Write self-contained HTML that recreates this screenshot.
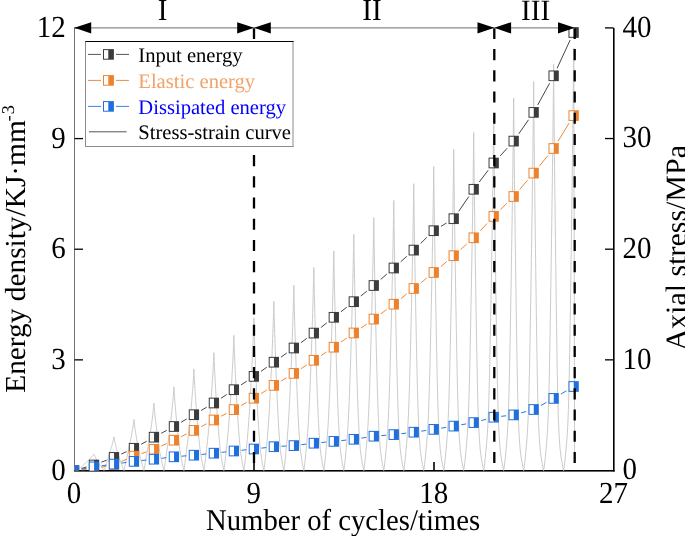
<!DOCTYPE html>
<html><head><meta charset="utf-8"><style>
html,body{margin:0;padding:0;background:#fff;width:685px;height:536px;overflow:hidden}
svg{display:block;will-change:transform;text-rendering:geometricPrecision;font-family:"Liberation Serif",serif}
</style></head><body>
<svg width="685" height="536" viewBox="0 0 685 536">
<defs><clipPath id="clip"><rect x="74.4" y="0" width="539.3" height="470.5"/></clipPath></defs>
<rect width="685" height="536" fill="#fff"/>
<rect x="74" y="27.9" width="1" height="443" fill="#727272"/>
<rect x="613" y="27.9" width="1.6" height="443.6" fill="#000"/>
<rect x="74" y="470" width="540.6" height="1.6" fill="#000"/>
<line x1="74.5" y1="359.86" x2="83" y2="359.86" stroke="#000" stroke-width="1.3"/>
<line x1="74.5" y1="249.22" x2="83" y2="249.22" stroke="#000" stroke-width="1.3"/>
<line x1="74.5" y1="138.58" x2="83" y2="138.58" stroke="#000" stroke-width="1.3"/>
<line x1="74.5" y1="27.94" x2="83" y2="27.94" stroke="#000" stroke-width="1.3"/>
<line x1="605" y1="359.85" x2="613.5" y2="359.85" stroke="#000" stroke-width="1.3"/>
<line x1="605" y1="249.20" x2="613.5" y2="249.20" stroke="#000" stroke-width="1.3"/>
<line x1="605" y1="138.55" x2="613.5" y2="138.55" stroke="#000" stroke-width="1.3"/>
<line x1="605" y1="27.90" x2="613.5" y2="27.90" stroke="#000" stroke-width="1.3"/>
<line x1="254.00" y1="462" x2="254.00" y2="470.5" stroke="#000" stroke-width="1.6"/>
<line x1="434.00" y1="462" x2="434.00" y2="470.5" stroke="#000" stroke-width="1.6"/>
<path d="M77.00,470.50 L77.16,470.36 L77.39,470.16 L77.66,469.93 L77.96,469.67 L78.28,469.39 L78.63,469.10 L78.99,468.79 L79.36,468.46 L79.75,468.13 L80.15,467.78 L80.57,467.42 L80.99,467.05 L81.42,466.67 L81.86,466.29 L82.31,465.89 L82.77,465.49 L83.23,465.08 L83.70,464.66 L84.17,464.23 L84.65,463.80 L85.14,463.36 L85.62,462.92 L86.12,462.46 L86.61,462.01 L87.11,461.54 L87.60,461.08 L88.10,460.60 L88.60,460.12 L89.10,459.64 L89.60,459.15 L90.09,458.65 L90.58,458.15 L91.06,457.65 L91.54,457.14 L92.01,456.63 L92.46,456.11 L92.90,455.59 L93.31,455.06 L93.69,454.53 L93.98,454.00 L93.98,454.00 L94.14,454.53 L94.33,455.06 L94.55,455.59 L94.78,456.11 L95.03,456.63 L95.28,457.14 L95.54,457.65 L95.80,458.15 L96.07,458.65 L96.34,459.15 L96.62,459.64 L96.90,460.12 L97.18,460.60 L97.47,461.08 L97.75,461.54 L98.04,462.01 L98.33,462.46 L98.61,462.92 L98.90,463.36 L99.19,463.80 L99.48,464.23 L99.76,464.66 L100.04,465.08 L100.33,465.49 L100.60,465.89 L100.88,466.29 L101.15,466.67 L101.42,467.05 L101.69,467.42 L101.95,467.78 L102.20,468.13 L102.45,468.46 L102.69,468.79 L102.92,469.10 L103.14,469.39 L103.35,469.67 L103.54,469.93 L103.72,470.16 L103.87,470.36 L103.98,470.50 L103.98,470.50 L104.07,470.22 L104.21,469.82 L104.36,469.34 L104.54,468.82 L104.73,468.25 L104.93,467.65 L105.13,467.01 L105.35,466.35 L105.58,465.67 L105.81,464.96 L106.05,464.23 L106.30,463.48 L106.55,462.71 L106.80,461.92 L107.07,461.11 L107.33,460.29 L107.60,459.45 L107.87,458.60 L108.15,457.73 L108.43,456.85 L108.71,455.96 L109.00,455.05 L109.29,454.14 L109.58,453.20 L109.87,452.26 L110.16,451.31 L110.46,450.34 L110.76,449.37 L111.07,448.38 L111.37,447.38 L111.67,446.38 L111.96,445.36 L112.25,444.33 L112.53,443.30 L112.81,442.25 L113.08,441.20 L113.34,440.14 L113.58,439.07 L113.80,437.99 L113.97,436.90 L113.97,436.90 L114.12,437.99 L114.30,439.07 L114.51,440.14 L114.73,441.20 L114.96,442.25 L115.19,443.30 L115.43,444.33 L115.68,445.36 L115.93,446.38 L116.19,447.38 L116.44,448.38 L116.70,449.37 L116.96,450.34 L117.23,451.31 L117.51,452.26 L117.79,453.20 L118.08,454.14 L118.36,455.05 L118.65,455.96 L118.94,456.85 L119.22,457.73 L119.51,458.60 L119.80,459.45 L120.09,460.29 L120.37,461.11 L120.66,461.92 L120.94,462.71 L121.22,463.48 L121.50,464.23 L121.77,464.96 L122.04,465.67 L122.31,466.35 L122.56,467.01 L122.81,467.65 L123.05,468.25 L123.28,468.82 L123.49,469.34 L123.68,469.82 L123.85,470.22 L123.96,470.50 L123.96,470.50 L124.06,470.08 L124.20,469.46 L124.36,468.74 L124.54,467.95 L124.74,467.09 L124.94,466.18 L125.15,465.22 L125.38,464.22 L125.60,463.18 L125.84,462.10 L126.08,461.00 L126.33,459.86 L126.58,458.69 L126.84,457.50 L127.10,456.28 L127.36,455.03 L127.63,453.77 L127.90,452.47 L128.18,451.16 L128.47,449.83 L128.77,448.47 L129.08,447.10 L129.38,445.71 L129.68,444.30 L129.99,442.87 L130.29,441.43 L130.59,439.96 L130.88,438.49 L131.18,436.99 L131.47,435.48 L131.75,433.96 L132.04,432.42 L132.31,430.86 L132.59,429.29 L132.85,427.71 L133.11,426.12 L133.35,424.51 L133.58,422.88 L133.79,421.25 L133.95,419.60 L133.95,419.60 L134.09,421.25 L134.27,422.88 L134.47,424.51 L134.68,426.12 L134.90,427.71 L135.12,429.29 L135.35,430.86 L135.59,432.42 L135.83,433.96 L136.07,435.48 L136.32,436.99 L136.57,438.49 L136.83,439.96 L137.08,441.43 L137.34,442.87 L137.59,444.30 L137.85,445.71 L138.11,447.10 L138.37,448.47 L138.63,449.83 L138.90,451.16 L139.19,452.47 L139.49,453.77 L139.78,455.03 L140.07,456.28 L140.37,457.50 L140.66,458.69 L140.96,459.86 L141.25,461.00 L141.54,462.10 L141.83,463.18 L142.11,464.22 L142.39,465.22 L142.66,466.18 L142.93,467.09 L143.18,467.95 L143.41,468.74 L143.63,469.46 L143.82,470.08 L143.95,470.50 L143.95,470.50 L144.05,469.94 L144.20,469.13 L144.38,468.18 L144.57,467.13 L144.77,465.99 L144.98,464.79 L145.21,463.52 L145.44,462.19 L145.67,460.82 L145.91,459.40 L146.16,457.94 L146.41,456.43 L146.66,454.89 L146.92,453.31 L147.18,451.70 L147.45,450.05 L147.75,448.37 L148.06,446.67 L148.36,444.93 L148.66,443.17 L148.96,441.38 L149.26,439.56 L149.56,437.72 L149.85,435.86 L150.14,433.97 L150.43,432.06 L150.72,430.13 L151.01,428.17 L151.29,426.19 L151.57,424.20 L151.84,422.18 L152.11,420.15 L152.38,418.09 L152.64,416.02 L152.89,413.92 L153.13,411.81 L153.37,409.69 L153.59,407.54 L153.78,405.38 L153.94,403.20 L153.94,403.20 L154.07,405.38 L154.24,407.54 L154.43,409.69 L154.63,411.81 L154.83,413.92 L155.05,416.02 L155.27,418.09 L155.50,420.15 L155.73,422.18 L155.96,424.20 L156.20,426.19 L156.44,428.17 L156.68,430.13 L156.93,432.06 L157.17,433.97 L157.42,435.86 L157.67,437.72 L157.93,439.56 L158.18,441.38 L158.44,443.17 L158.69,444.93 L158.95,446.67 L159.21,448.37 L159.47,450.05 L159.76,451.70 L160.06,453.31 L160.36,454.89 L160.67,456.43 L160.98,457.94 L161.29,459.40 L161.59,460.82 L161.90,462.19 L162.20,463.52 L162.50,464.79 L162.78,465.99 L163.06,467.13 L163.33,468.18 L163.57,469.13 L163.78,469.94 L163.93,470.50 L163.93,470.50 L164.05,469.81 L164.21,468.80 L164.40,467.61 L164.61,466.31 L164.82,464.89 L165.05,463.39 L165.28,461.82 L165.52,460.17 L165.76,458.46 L166.01,456.69 L166.26,454.87 L166.51,453.00 L166.77,451.08 L167.06,449.12 L167.37,447.11 L167.67,445.07 L167.97,442.98 L168.27,440.86 L168.57,438.70 L168.86,436.51 L169.16,434.28 L169.45,432.02 L169.73,429.73 L170.02,427.42 L170.30,425.07 L170.58,422.69 L170.86,420.29 L171.13,417.86 L171.40,415.40 L171.67,412.92 L171.93,410.41 L172.19,407.88 L172.44,405.32 L172.69,402.74 L172.93,400.14 L173.16,397.51 L173.38,394.87 L173.59,392.20 L173.78,389.51 L173.93,386.80 L173.93,386.80 L174.05,389.51 L174.21,392.20 L174.39,394.87 L174.58,397.51 L174.78,400.14 L174.98,402.74 L175.19,405.32 L175.41,407.88 L175.63,410.41 L175.85,412.92 L176.08,415.40 L176.31,417.86 L176.54,420.29 L176.77,422.69 L177.01,425.07 L177.25,427.42 L177.49,429.73 L177.74,432.02 L177.99,434.28 L178.24,436.51 L178.49,438.70 L178.74,440.86 L179.00,442.98 L179.25,445.07 L179.51,447.11 L179.77,449.12 L180.05,451.08 L180.37,453.00 L180.69,454.87 L181.01,456.69 L181.34,458.46 L181.66,460.17 L181.99,461.82 L182.31,463.39 L182.63,464.89 L182.94,466.31 L183.23,467.61 L183.51,468.80 L183.75,469.81 L183.92,470.50 L183.92,470.50 L184.05,469.66 L184.23,468.44 L184.44,467.00 L184.66,465.42 L184.90,463.71 L185.14,461.89 L185.39,459.98 L185.64,457.99 L185.89,455.92 L186.14,453.78 L186.40,451.57 L186.68,449.30 L187.00,446.98 L187.31,444.60 L187.61,442.17 L187.91,439.69 L188.21,437.16 L188.51,434.59 L188.80,431.98 L189.08,429.32 L189.36,426.62 L189.64,423.89 L189.92,421.11 L190.19,418.30 L190.46,415.46 L190.73,412.58 L190.99,409.67 L191.25,406.72 L191.51,403.75 L191.76,400.74 L192.01,397.70 L192.26,394.63 L192.50,391.54 L192.73,388.41 L192.96,385.26 L193.18,382.08 L193.39,378.87 L193.59,375.64 L193.77,372.38 L193.91,369.10 L193.91,369.10 L194.03,372.38 L194.18,375.64 L194.35,378.87 L194.53,382.08 L194.72,385.26 L194.91,388.41 L195.11,391.54 L195.32,394.63 L195.53,397.70 L195.74,400.74 L195.95,403.75 L196.17,406.72 L196.39,409.67 L196.62,412.58 L196.85,415.46 L197.08,418.30 L197.31,421.11 L197.54,423.89 L197.78,426.62 L198.02,429.32 L198.27,431.98 L198.51,434.59 L198.76,437.16 L199.02,439.69 L199.27,442.17 L199.54,444.60 L199.80,446.98 L200.07,449.30 L200.37,451.57 L200.70,453.78 L201.05,455.92 L201.39,457.99 L201.75,459.98 L202.10,461.89 L202.45,463.71 L202.79,465.42 L203.12,467.00 L203.43,468.44 L203.71,469.66 L203.90,470.50 L203.90,470.50 L204.05,469.53 L204.25,468.10 L204.48,466.44 L204.72,464.60 L204.98,462.61 L205.23,460.50 L205.49,458.28 L205.76,455.96 L206.02,453.56 L206.27,451.07 L206.59,448.51 L206.91,445.87 L207.22,443.17 L207.53,440.41 L207.84,437.59 L208.13,434.70 L208.42,431.77 L208.71,428.78 L208.99,425.74 L209.27,422.66 L209.54,419.53 L209.81,416.35 L210.08,413.13 L210.34,409.86 L210.60,406.56 L210.85,403.21 L211.11,399.83 L211.35,396.41 L211.60,392.95 L211.84,389.46 L212.08,385.93 L212.31,382.36 L212.54,378.76 L212.77,375.13 L212.99,371.47 L213.20,367.78 L213.40,364.05 L213.59,360.30 L213.76,356.51 L213.89,352.70 L213.89,352.70 L214.01,356.51 L214.16,360.30 L214.32,364.05 L214.49,367.78 L214.67,371.47 L214.86,375.13 L215.05,378.76 L215.24,382.36 L215.44,385.93 L215.64,389.46 L215.85,392.95 L216.06,396.41 L216.27,399.83 L216.49,403.21 L216.70,406.56 L216.92,409.86 L217.15,413.13 L217.37,416.35 L217.60,419.53 L217.83,422.66 L218.07,425.74 L218.31,428.78 L218.56,431.77 L218.80,434.70 L219.06,437.59 L219.32,440.41 L219.58,443.17 L219.85,445.87 L220.12,448.51 L220.42,451.07 L220.77,453.56 L221.14,455.96 L221.51,458.28 L221.89,460.50 L222.27,462.61 L222.64,464.60 L223.01,466.44 L223.36,468.10 L223.67,469.53 L223.89,470.50 L223.89,470.50 L224.05,469.38 L224.27,467.75 L224.53,465.84 L224.79,463.73 L225.07,461.45 L225.34,459.03 L225.62,456.48 L225.89,453.83 L226.16,451.07 L226.48,448.22 L226.82,445.28 L227.14,442.26 L227.46,439.16 L227.76,435.99 L228.06,432.75 L228.35,429.45 L228.64,426.08 L228.91,422.66 L229.19,419.17 L229.45,415.63 L229.72,412.04 L229.97,408.39 L230.23,404.70 L230.48,400.96 L230.72,397.17 L230.97,393.33 L231.21,389.45 L231.45,385.53 L231.68,381.56 L231.91,377.55 L232.14,373.51 L232.36,369.42 L232.58,365.29 L232.80,361.13 L233.01,356.93 L233.21,352.69 L233.40,348.42 L233.59,344.11 L233.75,339.77 L233.88,335.40 L233.88,335.40 L233.99,339.77 L234.13,344.11 L234.29,348.42 L234.45,352.69 L234.62,356.93 L234.80,361.13 L234.98,365.29 L235.17,369.42 L235.36,373.51 L235.56,377.55 L235.75,381.56 L235.95,385.53 L236.16,389.45 L236.36,393.33 L236.57,397.17 L236.78,400.96 L236.99,404.70 L237.21,408.39 L237.43,412.04 L237.65,415.63 L237.88,419.17 L238.11,422.66 L238.35,426.08 L238.59,429.45 L238.84,432.75 L239.09,435.99 L239.35,439.16 L239.62,442.26 L239.90,445.28 L240.18,448.22 L240.49,451.07 L240.87,453.83 L241.27,456.48 L241.67,459.03 L242.08,461.45 L242.49,463.73 L242.89,465.84 L243.28,467.75 L243.62,469.38 L243.87,470.50 L243.87,470.50 L244.05,469.24 L244.30,467.39 L244.58,465.23 L244.87,462.85 L245.17,460.27 L245.46,457.54 L245.75,454.66 L246.03,451.66 L246.36,448.54 L246.71,445.31 L247.04,441.99 L247.37,438.58 L247.68,435.08 L247.98,431.49 L248.28,427.83 L248.56,424.10 L248.84,420.30 L249.10,416.42 L249.36,412.48 L249.62,408.48 L249.87,404.42 L250.12,400.30 L250.36,396.13 L250.60,391.90 L250.84,387.61 L251.07,383.28 L251.30,378.89 L251.53,374.46 L251.75,369.97 L251.97,365.44 L252.19,360.87 L252.41,356.25 L252.62,351.59 L252.82,346.88 L253.02,342.13 L253.22,337.35 L253.41,332.52 L253.58,327.65 L253.74,322.74 L253.87,317.80 L253.87,317.80 L253.97,322.74 L254.11,327.65 L254.26,332.52 L254.41,337.35 L254.58,342.13 L254.75,346.88 L254.93,351.59 L255.11,356.25 L255.29,360.87 L255.48,365.44 L255.67,369.97 L255.86,374.46 L256.05,378.89 L256.25,383.28 L256.45,387.61 L256.65,391.90 L256.85,396.13 L257.06,400.30 L257.27,404.42 L257.48,408.48 L257.70,412.48 L257.92,416.42 L258.15,420.30 L258.38,424.10 L258.63,427.83 L258.87,431.49 L259.13,435.08 L259.40,438.58 L259.67,441.99 L259.96,445.31 L260.26,448.54 L260.60,451.66 L261.02,454.66 L261.44,457.54 L261.88,460.27 L262.32,462.85 L262.76,465.23 L263.19,467.39 L263.58,469.24 L263.86,470.50 L263.86,470.50 L264.06,469.10 L264.33,467.06 L264.64,464.67 L264.95,462.02 L265.26,459.17 L265.57,456.13 L265.87,452.95 L266.18,449.62 L266.55,446.16 L266.91,442.59 L267.25,438.91 L267.57,435.13 L267.88,431.25 L268.18,427.28 L268.46,423.22 L268.74,419.09 L269.00,414.87 L269.26,410.58 L269.51,406.22 L269.76,401.78 L270.00,397.28 L270.24,392.72 L270.47,388.09 L270.70,383.40 L270.93,378.66 L271.15,373.85 L271.37,368.99 L271.59,364.08 L271.81,359.11 L272.02,354.09 L272.23,349.02 L272.44,343.90 L272.64,338.74 L272.84,333.52 L273.04,328.26 L273.22,322.96 L273.41,317.61 L273.58,312.21 L273.73,306.78 L273.85,301.30 L273.85,301.30 L273.95,306.78 L274.08,312.21 L274.23,317.61 L274.38,322.96 L274.54,328.26 L274.71,333.52 L274.88,338.74 L275.05,343.90 L275.23,349.02 L275.41,354.09 L275.59,359.11 L275.78,364.08 L275.96,368.99 L276.15,373.85 L276.34,378.66 L276.53,383.40 L276.73,388.09 L276.93,392.72 L277.13,397.28 L277.34,401.78 L277.54,406.22 L277.76,410.58 L277.98,414.87 L278.21,419.09 L278.44,423.22 L278.68,427.28 L278.94,431.25 L279.20,435.13 L279.47,438.91 L279.76,442.59 L280.06,446.16 L280.38,449.62 L280.78,452.95 L281.23,456.13 L281.69,459.17 L282.17,462.02 L282.64,464.67 L283.11,467.06 L283.53,469.10 L283.84,470.50 L283.84,470.50 L284.06,468.97 L284.36,466.73 L284.69,464.12 L285.02,461.22 L285.35,458.10 L285.68,454.78 L285.99,451.30 L286.36,447.66 L286.74,443.88 L287.09,439.97 L287.43,435.94 L287.75,431.80 L288.06,427.56 L288.35,423.22 L288.62,418.78 L288.89,414.25 L289.15,409.64 L289.40,404.95 L289.64,400.18 L289.88,395.33 L290.11,390.40 L290.34,385.41 L290.56,380.35 L290.78,375.22 L291.00,370.03 L291.22,364.77 L291.43,359.45 L291.64,354.08 L291.85,348.64 L292.06,343.15 L292.26,337.61 L292.46,332.01 L292.66,326.36 L292.86,320.65 L293.04,314.90 L293.23,309.09 L293.40,303.24 L293.57,297.34 L293.72,291.39 L293.83,285.40 L293.83,285.40 L293.93,291.39 L294.06,297.34 L294.20,303.24 L294.35,309.09 L294.51,314.90 L294.67,320.65 L294.83,326.36 L295.00,332.01 L295.18,337.61 L295.35,343.15 L295.53,348.64 L295.70,354.08 L295.88,359.45 L296.07,364.77 L296.25,370.03 L296.44,375.22 L296.63,380.35 L296.82,385.41 L297.01,390.40 L297.21,395.33 L297.41,400.18 L297.62,404.95 L297.83,409.64 L298.05,414.25 L298.27,418.78 L298.51,423.22 L298.76,427.56 L299.02,431.80 L299.29,435.94 L299.58,439.97 L299.88,443.88 L300.20,447.66 L300.56,451.30 L301.03,454.78 L301.51,458.10 L302.02,461.22 L302.53,464.12 L303.03,466.73 L303.49,468.97 L303.83,470.50 L303.83,470.50 L304.07,468.82 L304.40,466.37 L304.75,463.50 L305.11,460.33 L305.46,456.90 L305.80,453.26 L306.15,449.44 L306.55,445.45 L306.93,441.30 L307.29,437.02 L307.63,432.60 L307.94,428.06 L308.24,423.41 L308.52,418.65 L308.79,413.78 L309.05,408.82 L309.29,403.76 L309.53,398.61 L309.77,393.37 L309.99,388.06 L310.21,382.66 L310.43,377.18 L310.65,371.63 L310.86,366.01 L311.07,360.31 L311.28,354.55 L311.49,348.72 L311.69,342.82 L311.89,336.86 L312.09,330.84 L312.29,324.76 L312.49,318.62 L312.68,312.42 L312.87,306.16 L313.05,299.85 L313.23,293.48 L313.40,287.07 L313.56,280.59 L313.71,274.07 L313.82,267.50 L313.82,267.50 L313.92,274.07 L314.04,280.59 L314.18,287.07 L314.32,293.48 L314.47,299.85 L314.63,306.16 L314.79,312.42 L314.95,318.62 L315.12,324.76 L315.29,330.84 L315.46,336.86 L315.63,342.82 L315.81,348.72 L315.98,354.55 L316.16,360.31 L316.34,366.01 L316.52,371.63 L316.71,377.18 L316.89,382.66 L317.08,388.06 L317.27,393.37 L317.47,398.61 L317.68,403.76 L317.89,408.82 L318.11,413.78 L318.33,418.65 L318.57,423.41 L318.83,428.06 L319.10,432.60 L319.38,437.02 L319.69,441.30 L320.01,445.45 L320.36,449.44 L320.81,453.26 L321.32,456.90 L321.85,460.33 L322.39,463.50 L322.94,466.37 L323.44,468.82 L323.81,470.50 L323.81,470.50 L324.07,468.69 L324.43,466.03 L324.81,462.93 L325.19,459.50 L325.56,455.80 L325.90,451.86 L326.31,447.73 L326.72,443.41 L327.10,438.93 L327.46,434.30 L327.79,429.52 L328.10,424.61 L328.39,419.58 L328.67,414.43 L328.92,409.17 L329.17,403.80 L329.41,398.33 L329.64,392.77 L329.87,387.11 L330.08,381.36 L330.30,375.52 L330.51,369.60 L330.72,363.59 L330.92,357.51 L331.13,351.35 L331.33,345.12 L331.53,338.82 L331.73,332.44 L331.93,326.00 L332.12,319.49 L332.31,312.91 L332.51,306.27 L332.69,299.57 L332.88,292.80 L333.05,285.98 L333.23,279.10 L333.39,272.16 L333.55,265.16 L333.69,258.11 L333.81,251.00 L333.81,251.00 L333.90,258.11 L334.02,265.16 L334.15,272.16 L334.30,279.10 L334.44,285.98 L334.60,292.80 L334.75,299.57 L334.91,306.27 L335.07,312.91 L335.24,319.49 L335.40,326.00 L335.57,332.44 L335.74,338.82 L335.91,345.12 L336.09,351.35 L336.26,357.51 L336.43,363.59 L336.61,369.60 L336.79,375.52 L336.97,381.36 L337.16,387.11 L337.35,392.77 L337.55,398.33 L337.75,403.80 L337.96,409.17 L338.18,414.43 L338.42,419.58 L338.66,424.61 L338.93,429.52 L339.21,434.30 L339.51,438.93 L339.84,443.41 L340.19,447.73 L340.61,451.86 L341.14,455.80 L341.69,459.50 L342.27,462.93 L342.85,466.03 L343.40,468.69 L343.80,470.50 L343.80,470.50 L344.08,468.55 L344.46,465.69 L344.87,462.36 L345.27,458.67 L345.65,454.68 L346.01,450.45 L346.46,446.01 L346.88,441.36 L347.27,436.54 L347.62,431.56 L347.95,426.42 L348.25,421.14 L348.53,415.73 L348.80,410.19 L349.05,404.53 L349.29,398.76 L349.51,392.88 L349.74,386.89 L349.95,380.80 L350.16,374.61 L350.37,368.33 L350.58,361.97 L350.78,355.51 L350.98,348.97 L351.18,342.34 L351.37,335.64 L351.57,328.86 L351.76,322.00 L351.95,315.07 L352.14,308.07 L352.33,300.99 L352.52,293.85 L352.70,286.64 L352.88,279.36 L353.06,272.02 L353.23,264.62 L353.39,257.16 L353.54,249.63 L353.68,242.04 L353.79,234.40 L353.79,234.40 L353.88,242.04 L354.00,249.63 L354.13,257.16 L354.27,264.62 L354.42,272.02 L354.56,279.36 L354.72,286.64 L354.87,293.85 L355.03,300.99 L355.19,308.07 L355.35,315.07 L355.52,322.00 L355.68,328.86 L355.85,335.64 L356.02,342.34 L356.19,348.97 L356.36,355.51 L356.53,361.97 L356.70,368.33 L356.88,374.61 L357.06,380.80 L357.24,386.89 L357.43,392.88 L357.63,398.76 L357.83,404.53 L358.04,410.19 L358.27,415.73 L358.51,421.14 L358.77,426.42 L359.05,431.56 L359.35,436.54 L359.68,441.36 L360.03,446.01 L360.42,450.45 L360.96,454.68 L361.54,458.67 L362.15,462.36 L362.77,465.69 L363.35,468.55 L363.78,470.50 L363.78,470.50 L364.09,468.41 L364.50,465.35 L364.93,461.78 L365.35,457.82 L365.74,453.56 L366.15,449.03 L366.61,444.26 L367.03,439.29 L367.42,434.13 L367.77,428.79 L368.09,423.28 L368.38,417.63 L368.66,411.83 L368.91,405.90 L369.15,399.84 L369.39,393.65 L369.61,387.35 L369.82,380.94 L370.03,374.42 L370.23,367.79 L370.43,361.07 L370.63,354.24 L370.83,347.33 L371.02,340.32 L371.22,333.22 L371.41,326.04 L371.60,318.78 L371.79,311.43 L371.98,304.01 L372.16,296.51 L372.35,288.93 L372.53,281.28 L372.71,273.56 L372.88,265.76 L373.06,257.90 L373.22,249.97 L373.38,241.98 L373.53,233.91 L373.67,225.79 L373.77,217.60 L373.77,217.60 L373.87,225.79 L373.98,233.91 L374.11,241.98 L374.25,249.97 L374.39,257.90 L374.53,265.76 L374.68,273.56 L374.84,281.28 L374.99,288.93 L375.15,296.51 L375.31,304.01 L375.47,311.43 L375.63,318.78 L375.79,326.04 L375.95,333.22 L376.12,340.32 L376.28,347.33 L376.45,354.24 L376.62,361.07 L376.79,367.79 L376.97,374.42 L377.14,380.94 L377.33,387.35 L377.51,393.65 L377.71,399.84 L377.92,405.90 L378.14,411.83 L378.37,417.63 L378.62,423.28 L378.89,428.79 L379.19,434.13 L379.52,439.29 L379.88,444.26 L380.27,449.03 L380.79,453.56 L381.39,457.82 L382.03,461.78 L382.68,465.35 L383.30,468.41 L383.77,470.50 L383.77,470.50 L384.10,468.27 L384.53,465.00 L384.98,461.19 L385.42,456.96 L385.83,452.41 L386.29,447.57 L386.76,442.48 L387.18,437.17 L387.56,431.65 L387.91,425.95 L388.22,420.07 L388.51,414.03 L388.77,407.84 L389.02,401.51 L389.25,395.03 L389.48,388.43 L389.69,381.70 L389.90,374.85 L390.10,367.88 L390.30,360.81 L390.49,353.62 L390.68,346.34 L390.87,338.95 L391.06,331.47 L391.25,323.89 L391.44,316.22 L391.63,308.46 L391.81,300.62 L392.00,292.69 L392.18,284.67 L392.36,276.58 L392.54,268.41 L392.71,260.16 L392.89,251.84 L393.05,243.44 L393.22,234.97 L393.37,226.43 L393.52,217.82 L393.66,209.15 L393.76,200.40 L393.76,200.40 L393.85,209.15 L393.96,217.82 L394.09,226.43 L394.22,234.97 L394.36,243.44 L394.50,251.84 L394.65,260.16 L394.80,268.41 L394.95,276.58 L395.11,284.67 L395.26,292.69 L395.42,300.62 L395.58,308.46 L395.74,316.22 L395.90,323.89 L396.06,331.47 L396.22,338.95 L396.38,346.34 L396.55,353.62 L396.71,360.81 L396.88,367.88 L397.05,374.85 L397.23,381.70 L397.41,388.43 L397.60,395.03 L397.80,401.51 L398.01,407.84 L398.24,414.03 L398.48,420.07 L398.75,425.95 L399.04,431.65 L399.36,437.17 L399.72,442.48 L400.12,447.57 L400.62,452.41 L401.24,456.96 L401.91,461.19 L402.59,465.00 L403.25,468.27 L403.75,470.50 L403.75,470.50 L404.10,468.13 L404.56,464.66 L405.04,460.61 L405.50,456.13 L405.92,451.29 L406.42,446.15 L406.89,440.75 L407.31,435.11 L407.69,429.25 L408.03,423.20 L408.33,416.96 L408.61,410.54 L408.87,403.97 L409.11,397.24 L409.34,390.37 L409.55,383.35 L409.76,376.21 L409.96,368.93 L410.15,361.54 L410.35,354.02 L410.54,346.40 L410.72,338.66 L410.91,330.82 L411.10,322.87 L411.28,314.82 L411.46,306.68 L411.65,298.44 L411.83,290.11 L412.01,281.69 L412.19,273.19 L412.37,264.59 L412.54,255.92 L412.72,247.16 L412.89,238.32 L413.05,229.40 L413.21,220.41 L413.37,211.34 L413.51,202.20 L413.64,192.99 L413.75,183.70 L413.75,183.70 L413.83,192.99 L413.94,202.20 L414.07,211.34 L414.20,220.41 L414.34,229.40 L414.48,238.32 L414.62,247.16 L414.77,255.92 L414.92,264.59 L415.07,273.19 L415.22,281.69 L415.38,290.11 L415.53,298.44 L415.69,306.68 L415.84,314.82 L416.00,322.87 L416.16,330.82 L416.32,338.66 L416.48,346.40 L416.64,354.02 L416.80,361.54 L416.97,368.93 L417.14,376.21 L417.32,383.35 L417.50,390.37 L417.69,397.24 L417.90,403.97 L418.12,410.54 L418.35,416.96 L418.61,423.20 L418.90,429.25 L419.22,435.11 L419.58,440.75 L419.98,446.15 L420.45,451.29 L421.10,456.13 L421.79,460.61 L422.51,464.66 L423.21,468.13 L423.74,470.50 L423.74,470.50 L424.11,467.99 L424.60,464.31 L425.10,460.02 L425.57,455.27 L426.01,450.14 L426.55,444.70 L427.02,438.97 L427.44,433.00 L427.81,426.79 L428.14,420.38 L428.44,413.76 L428.71,406.97 L428.96,400.00 L429.19,392.87 L429.41,385.59 L429.62,378.16 L429.82,370.58 L430.01,362.88 L430.20,355.04 L430.39,347.08 L430.57,339.00 L430.76,330.80 L430.94,322.49 L431.12,314.07 L431.31,305.54 L431.49,296.91 L431.67,288.18 L431.84,279.36 L432.02,270.44 L432.20,261.42 L432.37,252.32 L432.55,243.12 L432.72,233.84 L432.88,224.48 L433.05,215.03 L433.20,205.50 L433.36,195.89 L433.50,186.20 L433.63,176.44 L433.73,166.60 L433.73,166.60 L433.82,176.44 L433.93,186.20 L434.05,195.89 L434.18,205.50 L434.31,215.03 L434.45,224.48 L434.59,233.84 L434.74,243.12 L434.89,252.32 L435.03,261.42 L435.18,270.44 L435.34,279.36 L435.49,288.18 L435.64,296.91 L435.80,305.54 L435.95,314.07 L436.11,322.49 L436.26,330.80 L436.42,339.00 L436.58,347.08 L436.74,355.04 L436.90,362.88 L437.06,370.58 L437.23,378.16 L437.41,385.59 L437.60,392.87 L437.79,400.00 L438.00,406.97 L438.23,413.76 L438.49,420.38 L438.77,426.79 L439.09,433.00 L439.45,438.97 L439.85,444.70 L440.30,450.14 L440.95,455.27 L441.67,460.02 L442.42,464.31 L443.16,467.99 L443.72,470.50 L443.72,470.50 L444.12,467.84 L444.63,463.96 L445.15,459.42 L445.64,454.40 L446.13,448.98 L446.67,443.23 L447.14,437.18 L447.56,430.86 L447.92,424.30 L448.25,417.52 L448.54,410.53 L448.80,403.35 L449.04,395.99 L449.26,388.45 L449.47,380.75 L449.67,372.90 L449.87,364.90 L450.06,356.75 L450.24,348.47 L450.43,340.05 L450.61,331.51 L450.79,322.85 L450.97,314.06 L451.15,305.16 L451.33,296.15 L451.50,287.03 L451.68,277.81 L451.86,268.48 L452.03,259.05 L452.21,249.52 L452.38,239.90 L452.55,230.18 L452.72,220.37 L452.88,210.47 L453.04,200.49 L453.20,190.41 L453.35,180.26 L453.49,170.02 L453.62,159.70 L453.71,149.30 L453.71,149.30 L453.80,159.70 L453.91,170.02 L454.03,180.26 L454.16,190.41 L454.29,200.49 L454.43,210.47 L454.57,220.37 L454.71,230.18 L454.85,239.90 L455.00,249.52 L455.15,259.05 L455.30,268.48 L455.45,277.81 L455.60,287.03 L455.75,296.15 L455.90,305.16 L456.06,314.06 L456.21,322.85 L456.36,331.51 L456.52,340.05 L456.67,348.47 L456.83,356.75 L456.99,364.90 L457.16,372.90 L457.33,380.75 L457.51,388.45 L457.70,395.99 L457.90,403.35 L458.13,410.53 L458.37,417.52 L458.65,424.30 L458.96,430.86 L459.32,437.18 L459.72,443.23 L460.18,448.98 L460.81,454.40 L461.55,459.42 L462.34,463.96 L463.11,467.84 L463.71,470.50 L463.71,470.50 L464.12,467.71 L464.66,463.62 L465.20,458.85 L465.71,453.56 L466.23,447.86 L466.77,441.80 L467.25,435.44 L467.66,428.79 L468.02,421.89 L468.34,414.75 L468.62,407.40 L468.87,399.84 L469.11,392.09 L469.32,384.16 L469.53,376.06 L469.72,367.79 L469.91,359.37 L470.10,350.80 L470.28,342.08 L470.46,333.23 L470.63,324.24 L470.81,315.12 L470.99,305.88 L471.16,296.51 L471.34,287.03 L471.52,277.43 L471.69,267.73 L471.86,257.91 L472.04,247.99 L472.21,237.96 L472.38,227.83 L472.55,217.61 L472.71,207.29 L472.88,196.87 L473.03,186.36 L473.19,175.76 L473.34,165.08 L473.48,154.30 L473.60,143.44 L473.70,132.50 L473.70,132.50 L473.78,143.44 L473.89,154.30 L474.01,165.08 L474.14,175.76 L474.27,186.36 L474.40,196.87 L474.54,207.29 L474.68,217.61 L474.82,227.83 L474.97,237.96 L475.12,247.99 L475.26,257.91 L475.41,267.73 L475.56,277.43 L475.71,287.03 L475.86,296.51 L476.01,305.88 L476.16,315.12 L476.31,324.24 L476.46,333.23 L476.62,342.08 L476.77,350.80 L476.93,359.37 L477.09,367.79 L477.25,376.06 L477.43,384.16 L477.61,392.09 L477.81,399.84 L478.03,407.40 L478.27,414.75 L478.54,421.89 L478.84,428.79 L479.20,435.44 L479.60,441.80 L480.06,447.86 L480.68,453.56 L481.44,458.85 L482.25,463.62 L483.06,467.71 L483.69,470.50 L483.69,470.50 L484.13,467.58 L484.69,463.31 L485.25,458.33 L485.76,452.81 L486.32,446.85 L486.86,440.53 L487.34,433.88 L487.75,426.94 L488.10,419.73 L488.41,412.28 L488.69,404.60 L488.93,396.70 L489.16,388.61 L489.37,380.33 L489.57,371.87 L489.76,363.24 L489.94,354.44 L490.12,345.49 L490.30,336.39 L490.48,327.14 L490.65,317.75 L490.83,308.23 L491.00,298.57 L491.18,288.79 L491.35,278.89 L491.52,268.87 L491.70,258.73 L491.87,248.47 L492.04,238.11 L492.21,227.64 L492.38,217.06 L492.54,206.39 L492.71,195.61 L492.87,184.73 L493.03,173.75 L493.18,162.68 L493.32,151.52 L493.46,140.27 L493.59,128.93 L493.69,117.50 L493.69,117.50 L493.77,128.93 L493.87,140.27 L493.99,151.52 L494.12,162.68 L494.25,173.75 L494.38,184.73 L494.52,195.61 L494.66,206.39 L494.80,217.06 L494.94,227.64 L495.09,238.11 L495.23,248.47 L495.38,258.73 L495.53,268.87 L495.67,278.89 L495.82,288.79 L495.97,298.57 L496.12,308.23 L496.27,317.75 L496.42,327.14 L496.57,336.39 L496.72,345.49 L496.87,354.44 L497.03,363.24 L497.19,371.87 L497.36,380.33 L497.54,388.61 L497.73,396.70 L497.94,404.60 L498.18,412.28 L498.44,419.73 L498.74,426.94 L499.09,433.88 L499.49,440.53 L499.96,446.85 L500.56,452.81 L501.34,458.33 L502.18,463.31 L503.02,467.58 L503.68,470.50 L503.68,470.50 L504.14,467.42 L504.73,462.92 L505.31,457.66 L505.84,451.83 L506.43,445.55 L506.98,438.87 L507.45,431.86 L507.85,424.53 L508.20,416.92 L508.50,409.06 L508.76,400.96 L509.00,392.63 L509.22,384.09 L509.42,375.35 L509.61,366.42 L509.80,357.31 L509.98,348.03 L510.16,338.58 L510.33,328.98 L510.50,319.22 L510.68,309.31 L510.85,299.26 L511.02,289.08 L511.19,278.76 L511.36,268.31 L511.53,257.73 L511.70,247.03 L511.87,236.21 L512.04,225.27 L512.21,214.23 L512.38,203.06 L512.54,191.80 L512.70,180.42 L512.86,168.94 L513.02,157.36 L513.17,145.68 L513.31,133.90 L513.45,122.03 L513.57,110.06 L513.67,98.00 L513.67,98.00 L513.75,110.06 L513.86,122.03 L513.97,133.90 L514.10,145.68 L514.22,157.36 L514.36,168.94 L514.49,180.42 L514.63,191.80 L514.77,203.06 L514.91,214.23 L515.06,225.27 L515.20,236.21 L515.34,247.03 L515.49,257.73 L515.64,268.31 L515.78,278.76 L515.93,289.08 L516.07,299.26 L516.22,309.31 L516.37,319.22 L516.52,328.98 L516.66,338.58 L516.81,348.03 L516.97,357.31 L517.12,366.42 L517.29,375.35 L517.46,384.09 L517.65,392.63 L517.85,400.96 L518.08,409.06 L518.33,416.92 L518.63,424.53 L518.97,431.86 L519.37,438.87 L519.84,445.55 L520.42,451.83 L521.22,457.66 L522.09,462.92 L522.97,467.42 L523.66,470.50 L523.66,470.50 L524.14,467.29 L524.75,462.58 L525.35,457.09 L525.89,451.01 L526.52,444.45 L527.07,437.48 L527.53,430.16 L527.93,422.51 L528.27,414.57 L528.56,406.36 L528.82,397.89 L529.05,389.20 L529.26,380.28 L529.46,371.16 L529.65,361.84 L529.83,352.33 L530.00,342.64 L530.18,332.77 L530.35,322.75 L530.52,312.56 L530.69,302.22 L530.86,291.72 L531.03,281.09 L531.20,270.31 L531.37,259.40 L531.54,248.36 L531.71,237.19 L531.88,225.89 L532.04,214.48 L532.21,202.94 L532.37,191.29 L532.54,179.53 L532.70,167.65 L532.86,155.67 L533.01,143.57 L533.16,131.38 L533.30,119.08 L533.44,106.69 L533.56,94.19 L533.65,81.60 L533.65,81.60 L533.74,94.19 L533.84,106.69 L533.96,119.08 L534.08,131.38 L534.20,143.57 L534.34,155.67 L534.47,167.65 L534.61,179.53 L534.75,191.29 L534.89,202.94 L535.03,214.48 L535.17,225.89 L535.31,237.19 L535.46,248.36 L535.60,259.40 L535.75,270.31 L535.89,281.09 L536.04,291.72 L536.18,302.22 L536.33,312.56 L536.47,322.75 L536.62,332.77 L536.77,342.64 L536.92,352.33 L537.07,361.84 L537.23,371.16 L537.40,380.28 L537.58,389.20 L537.77,397.89 L537.99,406.36 L538.24,414.57 L538.53,422.51 L538.87,430.16 L539.27,437.48 L539.74,444.45 L540.30,451.01 L541.11,457.09 L542.01,462.58 L542.93,467.29 L543.65,470.50 L543.65,470.50 L544.15,467.14 L544.78,462.23 L545.40,456.49 L545.96,450.14 L546.60,443.29 L547.15,436.01 L547.62,428.36 L548.01,420.37 L548.34,412.08 L548.62,403.50 L548.87,394.66 L549.09,385.58 L549.30,376.27 L549.49,366.74 L549.67,357.00 L549.85,347.07 L550.02,336.95 L550.19,326.65 L550.36,316.17 L550.53,305.53 L550.70,294.73 L550.87,283.77 L551.04,272.66 L551.20,261.41 L551.37,250.01 L551.54,238.48 L551.71,226.81 L551.88,215.01 L552.04,203.09 L552.21,191.04 L552.37,178.87 L552.53,166.58 L552.69,154.18 L552.85,141.66 L553.00,129.03 L553.15,116.29 L553.29,103.45 L553.42,90.50 L553.55,77.45 L553.64,64.30 L553.64,64.30 L553.72,77.45 L553.82,90.50 L553.94,103.45 L554.06,116.29 L554.19,129.03 L554.32,141.66 L554.45,154.18 L554.58,166.58 L554.72,178.87 L554.86,191.04 L555.00,203.09 L555.14,215.01 L555.29,226.81 L555.43,238.48 L555.57,250.01 L555.71,261.41 L555.86,272.66 L556.00,283.77 L556.14,294.73 L556.29,305.53 L556.43,316.17 L556.58,326.65 L556.72,336.95 L556.87,347.07 L557.02,357.00 L557.17,366.74 L557.34,376.27 L557.51,385.58 L557.70,394.66 L557.92,403.50 L558.16,412.08 L558.44,420.37 L558.77,428.36 L559.17,436.01 L559.63,443.29 L560.18,450.14 L561.01,456.49 L561.93,462.23 L562.88,467.14 L563.63,470.50 L563.63,470.50 L564.15,467.01 L564.81,461.90 L565.44,455.93 L566.03,449.32 L566.68,442.20 L567.23,434.63 L567.69,426.67 L568.07,418.36 L568.39,409.73 L568.67,400.81 L568.91,391.62 L569.13,382.17 L569.33,372.49 L569.52,362.58 L569.69,352.45 L569.87,342.12 L570.04,331.59 L570.21,320.88 L570.37,309.98 L570.54,298.91 L570.71,287.68 L570.87,276.28 L571.04,264.72 L571.21,253.02 L571.37,241.16 L571.54,229.17 L571.71,217.03 L571.87,204.76 L572.04,192.36 L572.20,179.83 L572.36,167.17 L572.52,154.39 L572.68,141.48 L572.84,128.46 L572.99,115.33 L573.14,102.08 L573.28,88.72 L573.41,75.25 L573.53,61.68 L573.62,48.00 L573.83,48.00 L573.85,61.68 L573.88,75.25 L573.90,88.72 L573.93,102.08 L573.95,115.33 L573.98,128.46 L574.00,141.48 L574.03,154.39 L574.05,167.17 L574.07,179.83 L574.10,192.36 L574.12,204.76 L574.15,217.03 L574.17,229.17 L574.19,241.16 L574.21,253.02 L574.24,264.72 L574.26,276.28 L574.28,287.68 L574.30,298.91 L574.32,309.98 L574.34,320.88 L574.36,331.59 L574.38,342.12 L574.40,352.45 L574.42,362.58 L574.44,372.49 L574.46,382.17 L574.48,391.62 L574.49,400.81 L574.51,409.73 L574.53,418.36 L574.54,426.67 L574.56,434.63 L574.57,442.20 L574.58,449.32 L574.60,455.93 L574.61,461.90" fill="none" stroke="#cbcbcb" stroke-width="1" stroke-linejoin="round"/>
<path d="M81.46,468.45 L86.52,467.05 M101.38,462.19 L106.58,460.21 M121.30,454.06 L126.62,451.64 M141.20,444.27 L146.69,441.23 M161.21,433.31 L166.66,430.39 M181.14,422.24 L186.69,418.96 M201.13,410.47 L206.67,407.23 M221.04,398.24 L226.73,394.46 M241.03,384.94 L246.72,381.16 M260.97,371.35 L266.74,367.25 M280.96,357.15 L286.73,353.05 M300.91,342.73 L306.75,338.37 M320.85,327.54 L326.77,322.86 M340.85,311.80 L346.75,307.20 M360.80,296.01 L366.76,291.19 M380.73,279.41 L386.80,274.09 M400.70,261.79 L406.81,256.31 M420.62,243.43 L426.86,237.37 M440.94,226.37 L446.51,223.03 M458.70,211.37 L468.71,196.63 M479.22,182.04 L488.17,170.26 M500.18,155.88 L507.17,148.22 M518.77,133.78 L528.56,119.72 M537.73,104.94 L549.57,83.26 M557.12,68.27 L570.15,40.03" stroke="#3c3c3c" stroke-width="0.95" fill="none"/>
<path d="M81.54,469.93 L86.44,469.57 M101.48,467.31 L106.48,466.19 M121.34,461.44 L126.59,459.26 M141.37,453.64 L146.52,451.86 M161.27,445.96 L166.59,443.54 M181.23,436.62 L186.61,433.98 M201.19,426.61 L206.62,423.79 M221.17,416.21 L226.60,413.39 M241.11,405.47 L246.63,402.33 M261.04,393.61 L266.68,389.99 M281.06,381.07 L286.63,377.73 M300.99,368.71 L306.66,364.99 M320.98,355.61 L326.65,351.89 M340.91,342.15 L346.68,338.05 M360.91,328.05 L366.65,324.05 M380.85,313.83 L386.69,309.47 M400.80,298.67 L406.71,294.03 M420.77,282.88 L426.71,278.12 M440.72,266.63 L446.73,261.57 M460.65,249.49 L466.76,244.01 M480.33,230.70 L487.05,223.50 M500.54,209.58 L506.82,203.32 M519.80,189.33 L527.53,180.27 M539.51,165.89 L547.78,155.71 M558.14,141.10 L569.13,123.00" stroke="#ee822c" stroke-width="0.95" fill="none"/>
<path d="M81.51,469.15 L86.47,468.25 M101.51,465.85 L106.44,465.15 M121.50,463.08 L126.43,462.42 M141.49,460.57 L146.40,460.03 M161.47,458.30 L166.39,457.70 M181.47,456.20 L186.37,455.80 M201.45,454.45 L206.36,453.95 M221.43,452.37 L226.34,451.83 M241.42,450.25 L246.33,449.75 M261.40,448.13 L266.32,447.57 M281.40,446.28 L286.29,446.02 M301.37,444.70 L306.29,444.10 M321.36,442.52 L326.26,442.08 M341.34,440.61 L346.25,440.09 M361.31,438.13 L366.25,437.37 M381.32,435.60 L386.22,435.20 M401.29,433.70 L406.21,433.10 M421.27,431.15 L426.20,430.45 M441.25,428.16 L446.20,427.34 M461.23,424.78 L466.19,423.92 M481.17,420.58 L486.22,419.22 M501.22,416.33 L506.14,415.77 M521.14,412.88 L526.19,411.52 M540.90,405.47 L546.39,402.43 M560.85,394.11 L566.41,390.79" stroke="#1f6fdc" stroke-width="0.95" fill="none"/>
<g clip-path="url(#clip)">
<rect x="68.85" y="465.15" width="10.30" height="10.70" fill="#3c3c3c"/>
<rect x="69.85" y="466.15" width="4.25" height="8.70" fill="#fff"/>
<rect x="88.83" y="459.65" width="10.30" height="10.70" fill="#3c3c3c"/>
<rect x="89.83" y="460.65" width="4.25" height="8.70" fill="#fff"/>
<rect x="108.82" y="452.05" width="10.30" height="10.70" fill="#3c3c3c"/>
<rect x="109.82" y="453.05" width="4.25" height="8.70" fill="#fff"/>
<rect x="128.80" y="442.95" width="10.30" height="10.70" fill="#3c3c3c"/>
<rect x="129.80" y="443.95" width="4.25" height="8.70" fill="#fff"/>
<rect x="148.79" y="431.85" width="10.30" height="10.70" fill="#3c3c3c"/>
<rect x="149.79" y="432.85" width="4.25" height="8.70" fill="#fff"/>
<rect x="168.78" y="421.15" width="10.30" height="10.70" fill="#3c3c3c"/>
<rect x="169.78" y="422.15" width="4.25" height="8.70" fill="#fff"/>
<rect x="188.76" y="409.35" width="10.30" height="10.70" fill="#3c3c3c"/>
<rect x="189.76" y="410.35" width="4.25" height="8.70" fill="#fff"/>
<rect x="208.74" y="397.65" width="10.30" height="10.70" fill="#3c3c3c"/>
<rect x="209.74" y="398.65" width="4.25" height="8.70" fill="#fff"/>
<rect x="228.73" y="384.35" width="10.30" height="10.70" fill="#3c3c3c"/>
<rect x="229.73" y="385.35" width="4.25" height="8.70" fill="#fff"/>
<rect x="248.72" y="371.05" width="10.30" height="10.70" fill="#3c3c3c"/>
<rect x="249.72" y="372.05" width="4.25" height="8.70" fill="#fff"/>
<rect x="268.70" y="356.85" width="10.30" height="10.70" fill="#3c3c3c"/>
<rect x="269.70" y="357.85" width="4.25" height="8.70" fill="#fff"/>
<rect x="288.69" y="342.65" width="10.30" height="10.70" fill="#3c3c3c"/>
<rect x="289.69" y="343.65" width="4.25" height="8.70" fill="#fff"/>
<rect x="308.67" y="327.75" width="10.30" height="10.70" fill="#3c3c3c"/>
<rect x="309.67" y="328.75" width="4.25" height="8.70" fill="#fff"/>
<rect x="328.66" y="311.95" width="10.30" height="10.70" fill="#3c3c3c"/>
<rect x="329.66" y="312.95" width="4.25" height="8.70" fill="#fff"/>
<rect x="348.64" y="296.35" width="10.30" height="10.70" fill="#3c3c3c"/>
<rect x="349.64" y="297.35" width="4.25" height="8.70" fill="#fff"/>
<rect x="368.62" y="280.15" width="10.30" height="10.70" fill="#3c3c3c"/>
<rect x="369.62" y="281.15" width="4.25" height="8.70" fill="#fff"/>
<rect x="388.61" y="262.65" width="10.30" height="10.70" fill="#3c3c3c"/>
<rect x="389.61" y="263.65" width="4.25" height="8.70" fill="#fff"/>
<rect x="408.60" y="244.75" width="10.30" height="10.70" fill="#3c3c3c"/>
<rect x="409.60" y="245.75" width="4.25" height="8.70" fill="#fff"/>
<rect x="428.58" y="225.35" width="10.30" height="10.70" fill="#3c3c3c"/>
<rect x="429.58" y="226.35" width="4.25" height="8.70" fill="#fff"/>
<rect x="448.56" y="213.35" width="10.30" height="10.70" fill="#3c3c3c"/>
<rect x="449.56" y="214.35" width="4.25" height="8.70" fill="#fff"/>
<rect x="468.55" y="183.95" width="10.30" height="10.70" fill="#3c3c3c"/>
<rect x="469.55" y="184.95" width="4.25" height="8.70" fill="#fff"/>
<rect x="488.54" y="157.65" width="10.30" height="10.70" fill="#3c3c3c"/>
<rect x="489.54" y="158.65" width="4.25" height="8.70" fill="#fff"/>
<rect x="508.52" y="135.75" width="10.30" height="10.70" fill="#3c3c3c"/>
<rect x="509.52" y="136.75" width="4.25" height="8.70" fill="#fff"/>
<rect x="528.50" y="107.05" width="10.30" height="10.70" fill="#3c3c3c"/>
<rect x="529.50" y="108.05" width="4.25" height="8.70" fill="#fff"/>
<rect x="548.49" y="70.45" width="10.30" height="10.70" fill="#3c3c3c"/>
<rect x="549.49" y="71.45" width="4.25" height="8.70" fill="#fff"/>
<rect x="568.48" y="27.15" width="10.30" height="10.70" fill="#3c3c3c"/>
<rect x="569.48" y="28.15" width="4.25" height="8.70" fill="#fff"/>
<rect x="68.85" y="465.15" width="10.30" height="10.70" fill="#ee822c"/>
<rect x="69.85" y="466.15" width="4.25" height="8.70" fill="#fff"/>
<rect x="88.83" y="463.65" width="10.30" height="10.70" fill="#ee822c"/>
<rect x="89.83" y="464.65" width="4.25" height="8.70" fill="#fff"/>
<rect x="108.82" y="459.15" width="10.30" height="10.70" fill="#ee822c"/>
<rect x="109.82" y="460.15" width="4.25" height="8.70" fill="#fff"/>
<rect x="128.80" y="450.85" width="10.30" height="10.70" fill="#ee822c"/>
<rect x="129.80" y="451.85" width="4.25" height="8.70" fill="#fff"/>
<rect x="148.79" y="443.95" width="10.30" height="10.70" fill="#ee822c"/>
<rect x="149.79" y="444.95" width="4.25" height="8.70" fill="#fff"/>
<rect x="168.78" y="434.85" width="10.30" height="10.70" fill="#ee822c"/>
<rect x="169.78" y="435.85" width="4.25" height="8.70" fill="#fff"/>
<rect x="188.76" y="425.05" width="10.30" height="10.70" fill="#ee822c"/>
<rect x="189.76" y="426.05" width="4.25" height="8.70" fill="#fff"/>
<rect x="208.74" y="414.65" width="10.30" height="10.70" fill="#ee822c"/>
<rect x="209.74" y="415.65" width="4.25" height="8.70" fill="#fff"/>
<rect x="228.73" y="404.25" width="10.30" height="10.70" fill="#ee822c"/>
<rect x="229.73" y="405.25" width="4.25" height="8.70" fill="#fff"/>
<rect x="248.72" y="392.85" width="10.30" height="10.70" fill="#ee822c"/>
<rect x="249.72" y="393.85" width="4.25" height="8.70" fill="#fff"/>
<rect x="268.70" y="380.05" width="10.30" height="10.70" fill="#ee822c"/>
<rect x="269.70" y="381.05" width="4.25" height="8.70" fill="#fff"/>
<rect x="288.69" y="368.05" width="10.30" height="10.70" fill="#ee822c"/>
<rect x="289.69" y="369.05" width="4.25" height="8.70" fill="#fff"/>
<rect x="308.67" y="354.95" width="10.30" height="10.70" fill="#ee822c"/>
<rect x="309.67" y="355.95" width="4.25" height="8.70" fill="#fff"/>
<rect x="328.66" y="341.85" width="10.30" height="10.70" fill="#ee822c"/>
<rect x="329.66" y="342.85" width="4.25" height="8.70" fill="#fff"/>
<rect x="348.64" y="327.65" width="10.30" height="10.70" fill="#ee822c"/>
<rect x="349.64" y="328.65" width="4.25" height="8.70" fill="#fff"/>
<rect x="368.62" y="313.75" width="10.30" height="10.70" fill="#ee822c"/>
<rect x="369.62" y="314.75" width="4.25" height="8.70" fill="#fff"/>
<rect x="388.61" y="298.85" width="10.30" height="10.70" fill="#ee822c"/>
<rect x="389.61" y="299.85" width="4.25" height="8.70" fill="#fff"/>
<rect x="408.60" y="283.15" width="10.30" height="10.70" fill="#ee822c"/>
<rect x="409.60" y="284.15" width="4.25" height="8.70" fill="#fff"/>
<rect x="428.58" y="267.15" width="10.30" height="10.70" fill="#ee822c"/>
<rect x="429.58" y="268.15" width="4.25" height="8.70" fill="#fff"/>
<rect x="448.56" y="250.35" width="10.30" height="10.70" fill="#ee822c"/>
<rect x="449.56" y="251.35" width="4.25" height="8.70" fill="#fff"/>
<rect x="468.55" y="232.45" width="10.30" height="10.70" fill="#ee822c"/>
<rect x="469.55" y="233.45" width="4.25" height="8.70" fill="#fff"/>
<rect x="488.54" y="211.05" width="10.30" height="10.70" fill="#ee822c"/>
<rect x="489.54" y="212.05" width="4.25" height="8.70" fill="#fff"/>
<rect x="508.52" y="191.15" width="10.30" height="10.70" fill="#ee822c"/>
<rect x="509.52" y="192.15" width="4.25" height="8.70" fill="#fff"/>
<rect x="528.50" y="167.75" width="10.30" height="10.70" fill="#ee822c"/>
<rect x="529.50" y="168.75" width="4.25" height="8.70" fill="#fff"/>
<rect x="548.49" y="143.15" width="10.30" height="10.70" fill="#ee822c"/>
<rect x="549.49" y="144.15" width="4.25" height="8.70" fill="#fff"/>
<rect x="568.48" y="110.25" width="10.30" height="10.70" fill="#ee822c"/>
<rect x="569.48" y="111.25" width="4.25" height="8.70" fill="#fff"/>
<rect x="68.85" y="465.15" width="10.30" height="10.70" fill="#1f6fdc"/>
<rect x="69.85" y="466.15" width="4.25" height="8.70" fill="#fff"/>
<rect x="88.83" y="461.55" width="10.30" height="10.70" fill="#1f6fdc"/>
<rect x="89.83" y="462.55" width="4.25" height="8.70" fill="#fff"/>
<rect x="108.82" y="458.75" width="10.30" height="10.70" fill="#1f6fdc"/>
<rect x="109.82" y="459.75" width="4.25" height="8.70" fill="#fff"/>
<rect x="128.80" y="456.05" width="10.30" height="10.70" fill="#1f6fdc"/>
<rect x="129.80" y="457.05" width="4.25" height="8.70" fill="#fff"/>
<rect x="148.79" y="453.85" width="10.30" height="10.70" fill="#1f6fdc"/>
<rect x="149.79" y="454.85" width="4.25" height="8.70" fill="#fff"/>
<rect x="168.78" y="451.45" width="10.30" height="10.70" fill="#1f6fdc"/>
<rect x="169.78" y="452.45" width="4.25" height="8.70" fill="#fff"/>
<rect x="188.76" y="449.85" width="10.30" height="10.70" fill="#1f6fdc"/>
<rect x="189.76" y="450.85" width="4.25" height="8.70" fill="#fff"/>
<rect x="208.74" y="447.85" width="10.30" height="10.70" fill="#1f6fdc"/>
<rect x="209.74" y="448.85" width="4.25" height="8.70" fill="#fff"/>
<rect x="228.73" y="445.65" width="10.30" height="10.70" fill="#1f6fdc"/>
<rect x="229.73" y="446.65" width="4.25" height="8.70" fill="#fff"/>
<rect x="248.72" y="443.65" width="10.30" height="10.70" fill="#1f6fdc"/>
<rect x="249.72" y="444.65" width="4.25" height="8.70" fill="#fff"/>
<rect x="268.70" y="441.35" width="10.30" height="10.70" fill="#1f6fdc"/>
<rect x="269.70" y="442.35" width="4.25" height="8.70" fill="#fff"/>
<rect x="288.69" y="440.25" width="10.30" height="10.70" fill="#1f6fdc"/>
<rect x="289.69" y="441.25" width="4.25" height="8.70" fill="#fff"/>
<rect x="308.67" y="437.85" width="10.30" height="10.70" fill="#1f6fdc"/>
<rect x="309.67" y="438.85" width="4.25" height="8.70" fill="#fff"/>
<rect x="328.66" y="436.05" width="10.30" height="10.70" fill="#1f6fdc"/>
<rect x="329.66" y="437.05" width="4.25" height="8.70" fill="#fff"/>
<rect x="348.64" y="433.95" width="10.30" height="10.70" fill="#1f6fdc"/>
<rect x="349.64" y="434.95" width="4.25" height="8.70" fill="#fff"/>
<rect x="368.62" y="430.85" width="10.30" height="10.70" fill="#1f6fdc"/>
<rect x="369.62" y="431.85" width="4.25" height="8.70" fill="#fff"/>
<rect x="388.61" y="429.25" width="10.30" height="10.70" fill="#1f6fdc"/>
<rect x="389.61" y="430.25" width="4.25" height="8.70" fill="#fff"/>
<rect x="408.60" y="426.85" width="10.30" height="10.70" fill="#1f6fdc"/>
<rect x="409.60" y="427.85" width="4.25" height="8.70" fill="#fff"/>
<rect x="428.58" y="424.05" width="10.30" height="10.70" fill="#1f6fdc"/>
<rect x="429.58" y="425.05" width="4.25" height="8.70" fill="#fff"/>
<rect x="448.56" y="420.75" width="10.30" height="10.70" fill="#1f6fdc"/>
<rect x="449.56" y="421.75" width="4.25" height="8.70" fill="#fff"/>
<rect x="468.55" y="417.25" width="10.30" height="10.70" fill="#1f6fdc"/>
<rect x="469.55" y="418.25" width="4.25" height="8.70" fill="#fff"/>
<rect x="488.54" y="411.85" width="10.30" height="10.70" fill="#1f6fdc"/>
<rect x="489.54" y="412.85" width="4.25" height="8.70" fill="#fff"/>
<rect x="508.52" y="409.55" width="10.30" height="10.70" fill="#1f6fdc"/>
<rect x="509.52" y="410.55" width="4.25" height="8.70" fill="#fff"/>
<rect x="528.50" y="404.15" width="10.30" height="10.70" fill="#1f6fdc"/>
<rect x="529.50" y="405.15" width="4.25" height="8.70" fill="#fff"/>
<rect x="548.49" y="393.05" width="10.30" height="10.70" fill="#1f6fdc"/>
<rect x="549.49" y="394.05" width="4.25" height="8.70" fill="#fff"/>
<rect x="568.48" y="381.15" width="10.30" height="10.70" fill="#1f6fdc"/>
<rect x="569.48" y="382.15" width="4.25" height="8.70" fill="#fff"/>
</g>
<line x1="254.00" y1="27.9" x2="254.00" y2="463" stroke="#000" stroke-width="2.3" stroke-dasharray="11.1 10.1"/>
<line x1="494.30" y1="27.9" x2="494.30" y2="463" stroke="#000" stroke-width="2.3" stroke-dasharray="11.1 10.1"/>
<line x1="574.70" y1="27.9" x2="574.70" y2="463" stroke="#000" stroke-width="2.3" stroke-dasharray="11.1 10.1"/>
<rect x="85.75" y="41.5" width="207.2" height="105" fill="#fff"/>
<rect x="85" y="41" width="1" height="106" fill="#8c8c8c"/>
<rect x="292.5" y="41" width="1" height="106" fill="#8c8c8c"/>
<rect x="85" y="146" width="208.5" height="1" fill="#8c8c8c"/>
<rect x="85.5" y="41" width="208" height="1" fill="#000"/>
<line x1="88" y1="54.4" x2="101" y2="54.4" stroke="#555555" stroke-width="1"/>
<line x1="116" y1="54.4" x2="129" y2="54.4" stroke="#555555" stroke-width="1"/>
<rect x="103" y="49.10" width="10.9" height="10.6" fill="#3c3c3c"/>
<rect x="104" y="50.10" width="4.3" height="8.6" fill="#fff"/>
<text x="138.3" y="61.6" fill="#000" font-size="20.6">Input energy</text>
<line x1="88" y1="80.4" x2="101" y2="80.4" stroke="#f08a48" stroke-width="1"/>
<line x1="116" y1="80.4" x2="129" y2="80.4" stroke="#f08a48" stroke-width="1"/>
<rect x="103" y="75.10" width="10.9" height="10.6" fill="#ee822c"/>
<rect x="104" y="76.10" width="4.3" height="8.6" fill="#fff"/>
<text x="138.3" y="87.6" fill="#f1a268" font-size="20.6">Elastic energy</text>
<line x1="88" y1="106.4" x2="101" y2="106.4" stroke="#3a84e4" stroke-width="1"/>
<line x1="116" y1="106.4" x2="129" y2="106.4" stroke="#3a84e4" stroke-width="1"/>
<rect x="103" y="101.10" width="10.9" height="10.6" fill="#1f6fdc"/>
<rect x="104" y="102.10" width="4.3" height="8.6" fill="#fff"/>
<text x="138.3" y="113.6" fill="#0000ff" font-size="20.6">Dissipated energy</text>
<line x1="89" y1="131.8" x2="126.7" y2="131.8" stroke="#555555" stroke-width="1"/>
<text x="138.3" y="139" fill="#000" font-size="20.6">Stress-strain curve</text>
<line x1="74.40" y1="27.85" x2="254.00" y2="27.85" stroke="#8a8a8a" stroke-width="1.4"/>
<path d="M74.40,27.85 L91.20,22.15 L91.20,33.55Z" fill="#000"/>
<path d="M254.00,27.85 L237.20,22.15 L237.20,33.55Z" fill="#000"/>
<line x1="254.00" y1="27.85" x2="494.30" y2="27.85" stroke="#8a8a8a" stroke-width="1.4"/>
<path d="M254.00,27.85 L270.80,22.15 L270.80,33.55Z" fill="#000"/>
<path d="M494.30,27.85 L477.50,22.15 L477.50,33.55Z" fill="#000"/>
<line x1="494.30" y1="27.85" x2="574.80" y2="27.85" stroke="#8a8a8a" stroke-width="1.4"/>
<path d="M494.30,27.85 L511.10,22.15 L511.10,33.55Z" fill="#000"/>
<path d="M574.80,27.85 L558.00,22.15 L558.00,33.55Z" fill="#000"/>
<text transform="translate(65.70,479.50) scale(1,1.06)" text-anchor="end" font-size="29">0</text>
<text transform="translate(65.70,368.86) scale(1,1.06)" text-anchor="end" font-size="29">3</text>
<text transform="translate(65.70,258.22) scale(1,1.06)" text-anchor="end" font-size="29">6</text>
<text transform="translate(65.70,147.58) scale(1,1.06)" text-anchor="end" font-size="29">9</text>
<text transform="translate(65.70,36.94) scale(1,1.06)" text-anchor="end" font-size="29">12</text>
<text transform="translate(622.60,479.20) scale(1,1.06)" font-size="29">0</text>
<text transform="translate(622.60,368.55) scale(1,1.06)" font-size="29">10</text>
<text transform="translate(622.60,257.90) scale(1,1.06)" font-size="29">20</text>
<text transform="translate(622.60,147.25) scale(1,1.06)" font-size="29">30</text>
<text transform="translate(622.60,36.60) scale(1,1.06)" font-size="29">40</text>
<text transform="translate(74.00,502.60) scale(1,1.06)" text-anchor="middle" font-size="29">0</text>
<text transform="translate(253.87,502.60) scale(1,1.06)" text-anchor="middle" font-size="29">9</text>
<text transform="translate(433.73,502.60) scale(1,1.06)" text-anchor="middle" font-size="29">18</text>
<text transform="translate(613.60,502.60) scale(1,1.06)" text-anchor="middle" font-size="29">27</text>
<text transform="translate(343.05,529.80) scale(1,1.05)" text-anchor="middle" font-size="28.7">Number of cycles/times</text>
<text transform="translate(25.2,392.8) rotate(-90) scale(1.012,1)" font-size="29">Energy density/KJ·mm<tspan font-size="18" dy="-10.9" dx="-1.1">-</tspan><tspan font-size="18" dx="1.1">3</tspan></text>
<text transform="translate(685.6,350.5) rotate(-90) scale(1.015,1)" font-size="29.5">Axial stress/MPa</text>
<text transform="translate(162.70,19.75) scale(1,1.05)" text-anchor="middle" font-size="29">I</text>
<text transform="translate(372.00,19.75) scale(1,1.05)" text-anchor="middle" font-size="29">II</text>
<text transform="translate(535.60,19.50) scale(1,1.02)" text-anchor="middle" font-size="29">III</text>
</svg>
</body></html>
